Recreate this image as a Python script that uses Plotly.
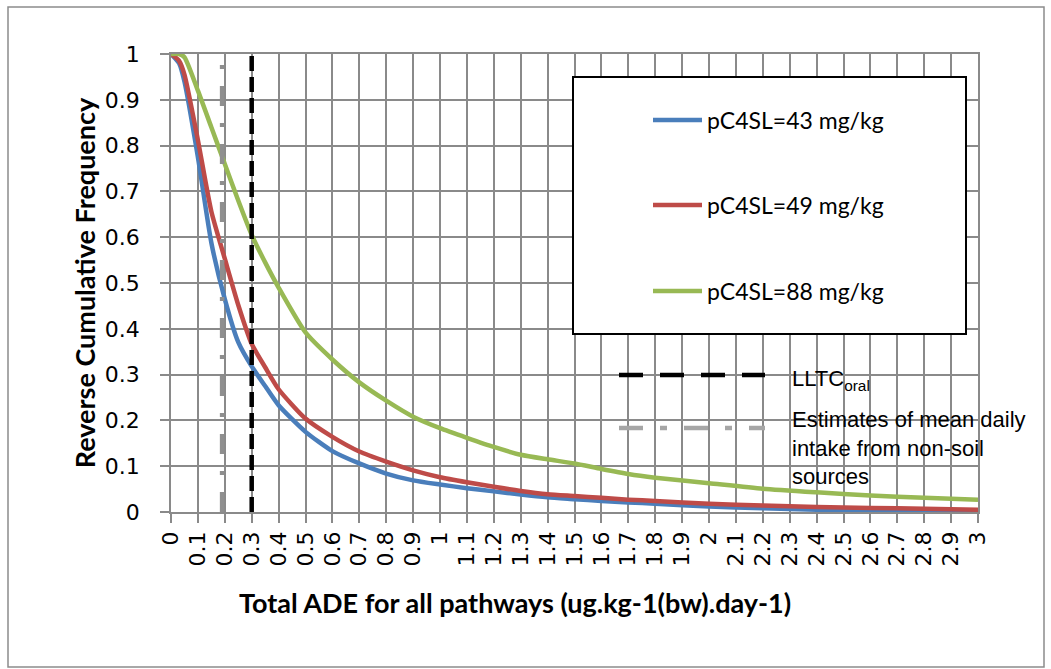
import plotly.graph_objects as go

# ---------------- data ----------------
x_vals = [0, 0.03, 0.05, 0.1, 0.15, 0.2, 0.25, 0.3, 0.35, 0.4, 0.5, 0.6, 0.7, 0.8, 0.9,
          1.0, 1.1, 1.2, 1.3, 1.4, 1.5, 1.6, 1.7, 1.8, 2.0, 2.2, 2.4, 2.6, 2.8, 3.0]

freq_43 = [1.0, 0.98, 0.94, 0.775, 0.588, 0.465, 0.371, 0.318, 0.275, 0.233, 0.175, 0.133, 0.106, 0.084, 0.069,
           0.060, 0.052, 0.045, 0.038, 0.032, 0.028, 0.024, 0.021, 0.018, 0.012, 0.008, 0.005, 0.004, 0.003, 0.002]
freq_49 = [1.0, 0.985, 0.955, 0.812, 0.656, 0.553, 0.452, 0.367, 0.316, 0.268, 0.204, 0.164, 0.132, 0.110, 0.091,
           0.076, 0.065, 0.055, 0.046, 0.039, 0.035, 0.031, 0.027, 0.024, 0.018, 0.014, 0.011, 0.009, 0.007, 0.005]
freq_88 = [1.0, 1.0, 0.993, 0.92, 0.84, 0.76, 0.68, 0.605, 0.545, 0.49, 0.392, 0.333, 0.283, 0.243, 0.208,
           0.183, 0.162, 0.142, 0.125, 0.115, 0.106, 0.094, 0.083, 0.075, 0.063, 0.051, 0.043, 0.036, 0.031, 0.027]

series_names = ["pC4SL=43 mg/kg", "pC4SL=49 mg/kg", "pC4SL=88 mg/kg"]
series_colors = ["#4a7ebb", "#be4b48", "#98b954"]

lltc_x = 0.3
nonsoil_x = 0.19
vline_y = [0, 1]
lltc_name = "LLTC<sub>oral</sub>"
nonsoil_name = "Estimates of mean daily<br>intake from non-soil<br>sources"

x_tick_vals = [round(i * 0.1, 1) for i in range(31)]
x_tick_labels = ["0", "0.1", "0.2", "0.3", "0.4", "0.5", "0.6", "0.7", "0.8", "0.9",
                 "1", "1.1", "1.2", "1.3", "1.4", "1.5", "1.6", "1.7", "1.8", "1.9",
                 "2", "2.1", "2.2", "2.3", "2.4", "2.5", "2.6", "2.7", "2.8", "2.9", "3"]
y_tick_vals = [round(i * 0.1, 1) for i in range(11)]
y_tick_labels = ["0", "0.1", "0.2", "0.3", "0.4", "0.5", "0.6", "0.7", "0.8", "0.9", "1"]

x_title = "Total ADE for all pathways (ug.kg-1(bw).day-1)"
y_title = "Reverse Cumulative Frequency"

# ---------------- layout geometry ----------------
W, H = 1051, 669
ML, MR, MT, MB = 171, 73, 54, 157
PW = W - ML - MR
PH = H - MT - MB
PB = H - MB


def px(p):
    return (p - ML) / PW


def py(p):
    return (PB - p) / PH


GRID = "#8a8a8a"
CAL = "Lato, 'Open Sans', sans-serif"
ARI = "'Liberation Sans', Arial, sans-serif"
DJV = "'DejaVu Sans', Verdana, sans-serif"

fig = go.Figure()

for ys, name, col in zip([freq_43, freq_49, freq_88], series_names, series_colors):
    fig.add_trace(go.Scatter(x=x_vals, y=ys, mode="lines", name=name,
                             line=dict(color=col, width=4.5, shape="spline", smoothing=0.6),
                             showlegend=False))

fig.add_trace(go.Scatter(x=[lltc_x, lltc_x], y=vline_y, mode="lines", name="LLTC oral",
                         line=dict(color="black", width=4.5, dash="15px,6px"), showlegend=False))
fig.add_trace(go.Scatter(x=[nonsoil_x, nonsoil_x], y=vline_y, mode="lines",
                         name="Estimates of mean daily intake from non-soil sources",
                         line=dict(color="#8f8f8f", width=4.5, dash="20px,17px,4px,17px"),
                         showlegend=False))

shapes = []
annotations = []

# outer chart border
shapes.append(dict(type="rect", xref="paper", yref="paper",
                   x0=px(8), x1=px(1044), y0=py(667), y1=py(7),
                   line=dict(color="#8c8c8c", width=1.5), layer="below"))

# legend box for series
shapes.append(dict(type="rect", xref="paper", yref="paper",
                   x0=px(573), x1=px(966), y0=py(334), y1=py(77),
                   line=dict(color="black", width=2), fillcolor="white", layer="above"))
for i, (name, col) in enumerate(zip(series_names, series_colors)):
    yc = [120, 205, 291][i]
    shapes.append(dict(type="line", xref="paper", yref="paper",
                       x0=px(653), x1=px(702), y0=py(yc), y1=py(yc),
                       line=dict(color=col, width=4.5), layer="above"))
    annotations.append(dict(xref="paper", yref="paper", x=px(705), y=py(yc),
                            xanchor="left", yanchor="middle", showarrow=False,
                            text=name, font=dict(family=CAL, size=23, color="black")))

# second legend (vertical reference lines)
shapes.append(dict(type="line", xref="paper", yref="paper",
                   x0=px(619), x1=px(765), y0=py(375), y1=py(375),
                   line=dict(color="black", width=4.5, dash="24px,17px"), layer="above"))
shapes.append(dict(type="line", xref="paper", yref="paper",
                   x0=px(619), x1=px(765), y0=py(428), y1=py(428),
                   line=dict(color="#a6a6a6", width=4.5, dash="24px,17px,7px,17px"), layer="above"))
annotations.append(dict(xref="paper", yref="paper", x=px(790), y=py(380),
                        xanchor="left", yanchor="middle", showarrow=False,
                        text=lltc_name, font=dict(family=ARI, size=22, color="black")))
annotations.append(dict(xref="paper", yref="paper", x=px(790), y=py(405),
                        xanchor="left", yanchor="top", align="left", showarrow=False,
                        text=nonsoil_name, font=dict(family=ARI, size=22, color="black")))

# x axis title
annotations.append(dict(xref="paper", yref="paper", x=px(515), y=py(602),
                        xanchor="center", yanchor="middle", showarrow=False,
                        text="<b>" + x_title + "</b>", font=dict(family=CAL, size=27, color="black")))

fig.update_layout(
    width=W, height=H, autosize=False,
    margin=dict(l=ML, r=MR, t=MT, b=MB),
    paper_bgcolor="white", plot_bgcolor="white",
    shapes=shapes, annotations=annotations,
    xaxis=dict(range=[0, 3], tickvals=x_tick_vals, ticktext=x_tick_labels,
               tickangle=-90, tickfont=dict(family=DJV, size=22, color="black"),
               ticks="outside", ticklen=9, tickwidth=1.5, tickcolor=GRID,
               ticklabelstandoff=0,
               showgrid=True, gridcolor=GRID, gridwidth=1.5,
               showline=True, linecolor=GRID, linewidth=1.5, mirror=True,
               zeroline=False, fixedrange=True),
    yaxis=dict(range=[0, 1], tickvals=y_tick_vals, ticktext=y_tick_labels,
               tickfont=dict(family=DJV, size=22, color="black"),
               ticks="outside", ticklen=9, tickwidth=1.5, tickcolor=GRID,
               ticklabelstandoff=16,
               showgrid=True, gridcolor=GRID, gridwidth=1.5,
               showline=True, linecolor=GRID, linewidth=1.5, mirror=True,
               zeroline=False, fixedrange=True,
               title=dict(text="<b>" + y_title + "</b>", standoff=1,
                          font=dict(family=CAL, size=27, color="black"))),
)

fig.write_html("out.html")
